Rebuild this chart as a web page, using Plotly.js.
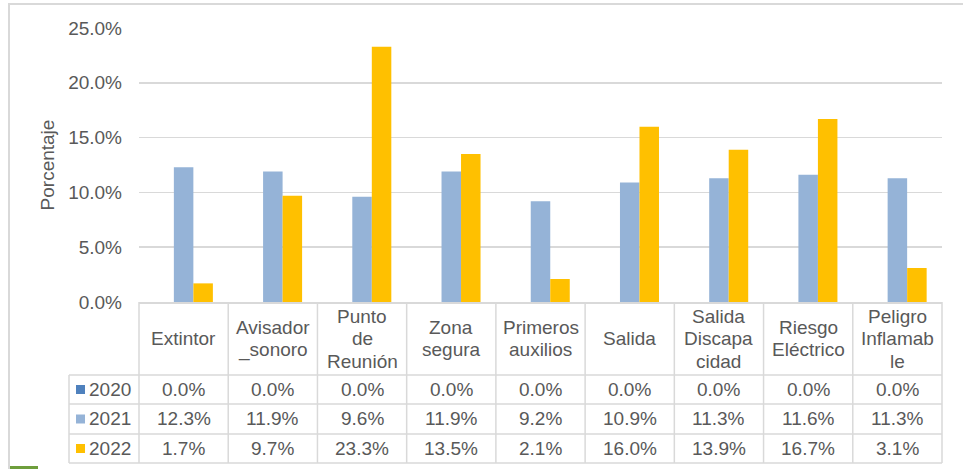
<!DOCTYPE html>
<html>
<head>
<meta charset="utf-8">
<script src="https://cdn.plot.ly/plotly-3.0.1.min.js"></script>
<style>html,body{margin:0;padding:0;background:#fff;}#chart{width:963px;height:469px;}</style>
</head>
<body>
<div id="chart"></div>
<script>
// ---- data ----
const categories = ['Extintor','Avisador_sonoro','Punto de Reunión','Zona segura','Primeros auxilios','Salida','Salida Discapacidad','Riesgo Eléctrico','Peligro Inflamable'];
const headerLabels = ['Extintor','Avisador<br>_sonoro','Punto<br>de<br>Reunión','Zona<br>segura','Primeros<br>auxilios','Salida','Salida<br>Discapa<br>cidad','Riesgo<br>Eléctrico','Peligro<br>Inflamab<br>le'];
const seriesNames = ['2020','2021','2022'];
const v2020 = [0.0,0.0,0.0,0.0,0.0,0.0,0.0,0.0,0.0];
const v2021 = [12.3,11.9,9.6,11.9,9.2,10.9,11.3,11.6,11.3];
const v2022 = [1.7,9.7,23.3,13.5,2.1,16.0,13.9,16.7,3.1];
const yTicks = [0,5,10,15,20,25];

// ---- styles ----
const colors = ['#4F81BD','#95B3D7','#FFC000'];
const values = [v2020, v2021, v2022];
const txt = '#595959';
const grid = '#D9D9D9';
const FONT = 'Liberation Sans, Arial, sans-serif';
const FS = 19;
const LINE = 22.5;   // header line spacing (px)

const W = 963, H = 469;
const M = {l:139, r:21, t:28, b:167};
const plotW = W - M.l - M.r, plotH = H - M.t - M.b;
const axisY = M.t + plotH;             // pixel y of 0%
const px2x = p => (p - M.l) / plotW;   // pixel x -> paper
const px2y = p => (axisY - p) / plotH; // pixel y -> paper

// table geometry (pixels)
const rowTops = [375, 404, 434];
const rowBottom = 463;
const headerMid = (axisY + rowTops[0]) / 2;
const legendLeft = 69;

const traces = seriesNames.map((n, k) => ({
  type: 'bar', name: n, x: categories, y: values[k],
  marker: {color: colors[k], line: {width: 0}},
  hoverinfo: 'x+y+name'
}));

const shapes = [];
const annotations = [];
const nC = categories.length;

// horizontal lines of the table
const hLines = rowTops.concat([rowBottom]);
hLines.forEach(p => shapes.push({type:'line', xref:'paper', yref:'paper',
  x0: px2x(legendLeft), x1: 1, y0: px2y(p), y1: px2y(p), line:{color:grid, width:1.5}}));
// vertical lines: category boundaries
for (let i = 0; i <= nC; i++) {
  shapes.push({type:'line', xref:'paper', yref:'paper', x0: i/nC, x1: i/nC,
    y0: px2y(axisY), y1: px2y(rowBottom), line:{color:grid, width:1.5}});
}
// legend column left line
shapes.push({type:'line', xref:'paper', yref:'paper', x0: px2x(legendLeft), x1: px2x(legendLeft),
  y0: px2y(rowTops[0]), y1: px2y(rowBottom), line:{color:grid, width:1.5}});

// header labels (one annotation per line for Excel-like spacing)
categories.forEach((c, i) => {
  const lines = headerLabels[i].split('<br>');
  lines.forEach((ln, j) => {
    const yPix = headerMid + (j - (lines.length - 1) / 2) * LINE;
    annotations.push({xref:'x', yref:'paper', x: c, y: px2y(yPix), text: ln,
      showarrow:false, xanchor:'center', yanchor:'middle', align:'center',
      font:{family:FONT, size:FS, color:txt}});
  });
});
// rows
seriesNames.forEach((n, k) => {
  const top = rowTops[k];
  const bot = k < rowTops.length - 1 ? rowTops[k+1] : rowBottom;
  const mid = (top + bot) / 2;
  // legend key
  shapes.push({type:'rect', xref:'paper', yref:'paper', x0: px2x(76), x1: px2x(85),
    y0: px2y(mid - 4.5), y1: px2y(mid + 4.5), fillcolor: colors[k], line:{width:0}});
  annotations.push({xref:'paper', yref:'paper', x: px2x(87), y: px2y(mid), text: n,
    showarrow:false, xanchor:'left', yanchor:'middle',
    font:{family:FONT, size:FS, color:txt}});
  values[k].forEach((v, i) => {
    annotations.push({xref:'x', yref:'paper', x: categories[i], y: px2y(mid),
      text: v.toFixed(1) + '%', showarrow:false, xanchor:'center', yanchor:'middle',
      font:{family:FONT, size:FS, color:txt}});
  });
});

// outer chart border
shapes.push({type:'rect', xref:'paper', yref:'paper', x0: px2x(9), x1: px2x(990),
  y0: px2y(4), y1: px2y(490), line:{color:grid, width:2}, fillcolor:'rgba(0,0,0,0)'});
// small green tab at the bottom-left
shapes.push({type:'rect', xref:'paper', yref:'paper', x0: px2x(10), x1: px2x(38),
  y0: px2y(466), y1: px2y(476), line:{width:0}, fillcolor:'#6E9E3C'});

const layout = {
  width: W, height: H,
  margin: M,
  paper_bgcolor: '#fff', plot_bgcolor: '#fff',
  showlegend: false,
  barmode: 'group', bargap: 0.344, bargroupgap: 0,
  font: {family: FONT, size: FS, color: txt},
  xaxis: {type:'category', showticklabels:false, showgrid:false, zeroline:false,
    showline:true, linecolor:grid, linewidth:1.5, ticks:'', fixedrange:true},
  yaxis: {range:[0,25], tickvals: yTicks, ticktext: yTicks.map(t => t.toFixed(1) + '%'),
    showgrid:true, gridcolor:grid, gridwidth:1.5, zeroline:false, showline:false,
    ticks:'', ticklabelstandoff: 16,
    tickfont:{family:FONT, size:FS, color:txt},
    title:{text:'Porcentaje', standoff: 8, font:{family:FONT, size:FS, color:txt}},
    automargin:false, fixedrange:true},
  shapes: shapes,
  annotations: annotations
};

Plotly.newPlot('chart', traces, layout, {displayModeBar:false, staticPlot:true});
</script>
</body>
</html>
